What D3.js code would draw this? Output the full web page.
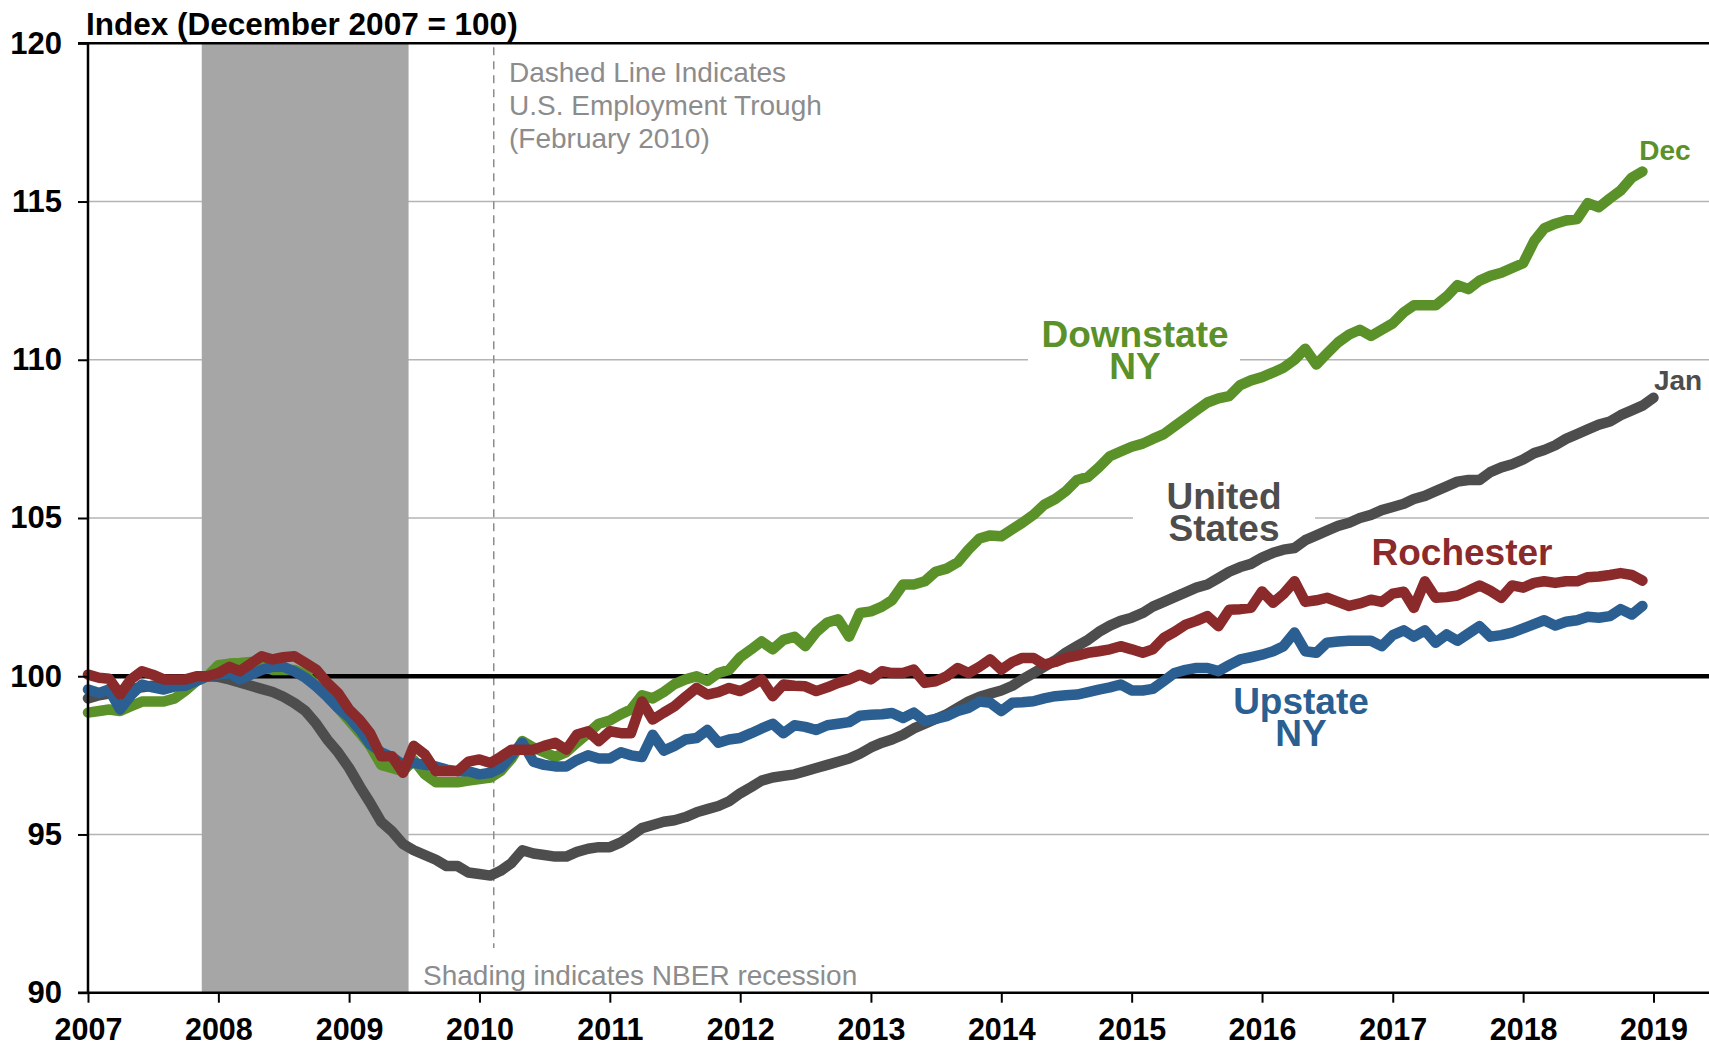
<!DOCTYPE html>
<html>
<head>
<meta charset="utf-8">
<script src="https://cdn.jsdelivr.net/npm/d3@7"></script>
<style>
  html, body { margin: 0; padding: 0; background: #fff; }
  svg { display: block; font-family: "Liberation Sans", Arial, sans-serif; }
</style>
</head>
<body>
<div id="chart"></div>
<script>
// index values, Dec 2007 = 100, monthly from Jan 2007
var usIndex = [
  99.3, 99.4, 99.45, 99.5, 99.6, 99.65, 99.7, 99.7, 99.75, 99.85, 99.9, 100.0,
  99.98, 99.9, 99.8, 99.7, 99.6, 99.5, 99.35, 99.15, 98.9, 98.5, 98.0, 97.6,
  97.1, 96.5, 96.0, 95.4, 95.1, 94.7, 94.5, 94.35, 94.2, 94.0, 94.0, 93.8,
  93.75, 93.7, 93.85, 94.1, 94.5, 94.4, 94.35, 94.3, 94.3, 94.45, 94.55, 94.6,
  94.6, 94.75, 94.95, 95.2, 95.3, 95.4, 95.45, 95.55, 95.7, 95.8, 95.9, 96.05,
  96.3, 96.5, 96.7, 96.8, 96.85, 96.9, 97.0, 97.1, 97.2, 97.3, 97.4, 97.55,
  97.75, 97.9, 98.0, 98.15, 98.35, 98.5, 98.65, 98.8, 99.0, 99.2, 99.35, 99.45,
  99.55, 99.7, 99.9, 100.1, 100.3, 100.5, 100.75, 100.95, 101.15, 101.4, 101.6, 101.75,
  101.85, 102.0, 102.2, 102.35, 102.5, 102.65, 102.8, 102.9, 103.1, 103.3, 103.45, 103.55,
  103.75, 103.9, 104.0, 104.05, 104.3, 104.45, 104.6, 104.75, 104.85, 105.0, 105.1, 105.25,
  105.35, 105.45, 105.6, 105.7, 105.85, 106.0, 106.15, 106.2, 106.2, 106.45, 106.6, 106.7,
  106.85, 107.05, 107.15, 107.3, 107.5, 107.65, 107.8, 107.95, 108.05, 108.25, 108.4, 108.55,
  108.8
];
var downstateIndex = [
  98.85, 98.9, 98.95, 98.9, 99.05, 99.2, 99.2, 99.2, 99.3, 99.55, 99.85, 100.0,
  100.35, 100.4, 100.42, 100.45, 100.35, 100.2, 100.2, 100.2, 100.05, 99.7, 99.4, 99.0,
  98.6, 98.2, 97.8, 97.2, 97.1, 97.0, 97.35, 96.9, 96.65, 96.65, 96.65, 96.7,
  96.75, 96.8, 97.0, 97.4, 97.95, 97.75, 97.6, 97.45, 97.6, 97.9, 98.2, 98.5,
  98.6, 98.8, 98.95, 99.4, 99.3, 99.5, 99.75, 99.9, 100.0, 99.85, 100.1, 100.2,
  100.6, 100.85, 101.1, 100.85, 101.15, 101.25, 100.95, 101.4, 101.7, 101.8, 101.25, 102.0,
  102.05, 102.2, 102.4, 102.9, 102.9, 103.0, 103.3, 103.4, 103.6, 104.0, 104.35, 104.45,
  104.42, 104.65, 104.85, 105.1, 105.42, 105.6, 105.85, 106.2, 106.3, 106.6, 106.95, 107.1,
  107.25, 107.35, 107.5, 107.65, 107.9, 108.15, 108.4, 108.65, 108.78, 108.85, 109.2, 109.35,
  109.45, 109.6, 109.75, 110.0, 110.35, 109.85, 110.2, 110.55, 110.8, 110.95, 110.75, 110.95,
  111.15, 111.5, 111.72, 111.72, 111.72, 112.0, 112.36, 112.23, 112.5, 112.65, 112.75, 112.9,
  113.05, 113.75, 114.15, 114.3, 114.4, 114.45, 114.95, 114.82, 115.1, 115.35, 115.75, 115.95
];
var upstateIndex = [
  99.58, 99.47, 99.58, 98.95, 99.4, 99.74, 99.65, 99.58, 99.68, 99.7, 99.85, 100.0,
  100.05, 100.1, 99.9, 100.05, 100.2, 100.3, 100.3, 100.15, 99.95, 99.68, 99.35, 99.0,
  98.7, 98.3, 97.85, 97.6, 97.45, 97.2, 97.26, 97.2, 97.15, 97.05, 97.0, 97.0,
  96.9, 96.95, 97.1, 97.5, 97.9, 97.3, 97.2, 97.15, 97.15, 97.35, 97.5, 97.4,
  97.4, 97.6, 97.5, 97.45, 98.15, 97.65, 97.8, 98.0, 98.05, 98.3, 97.9, 98.0,
  98.05, 98.2, 98.35, 98.5, 98.2, 98.45, 98.4, 98.3, 98.45, 98.5, 98.55, 98.75,
  98.78, 98.8, 98.84, 98.68, 98.85, 98.58, 98.65, 98.74, 98.9, 99.0, 99.2, 99.16,
  98.9, 99.16, 99.18, 99.21, 99.3, 99.37, 99.4, 99.42, 99.5, 99.58, 99.65, 99.74,
  99.55, 99.55, 99.6, 99.85, 100.1, 100.2, 100.26, 100.26, 100.16, 100.35, 100.53, 100.6,
  100.68, 100.79, 100.95, 101.38, 100.79, 100.74, 101.06, 101.1, 101.12, 101.12, 101.12, 100.95,
  101.3, 101.45, 101.25, 101.45, 101.06, 101.32, 101.12, 101.35, 101.58, 101.25, 101.3, 101.38,
  101.51, 101.65, 101.77, 101.6, 101.72, 101.77, 101.88, 101.85, 101.9, 102.12, 101.95, 102.22
];
var rochesterIndex = [
  100.05, 99.95, 99.92, 99.42, 99.9, 100.16, 100.05, 99.9, 99.9, 99.9, 100.0, 100.0,
  100.1, 100.3, 100.16, 100.4, 100.63, 100.53, 100.6, 100.63, 100.42, 100.21, 99.79, 99.47,
  98.95, 98.6, 98.2, 97.47, 97.47, 96.95, 97.8, 97.53, 97.0, 97.0, 97.0, 97.3,
  97.37, 97.26, 97.45, 97.68, 97.68, 97.68, 97.8, 97.9, 97.68, 98.16, 98.26, 97.95,
  98.26, 98.2, 98.2, 99.2, 98.63, 98.85, 99.05, 99.35, 99.63, 99.42, 99.5, 99.63,
  99.53, 99.7, 99.9, 99.37, 99.74, 99.7, 99.68, 99.53, 99.65, 99.79, 99.9, 100.05,
  99.9, 100.16, 100.1, 100.1, 100.21, 99.79, 99.84, 100.0, 100.26, 100.1, 100.3, 100.53,
  100.21, 100.45, 100.58, 100.58, 100.37, 100.45, 100.58, 100.65, 100.74, 100.79, 100.85, 100.95,
  100.85, 100.74, 100.85, 101.21, 101.4, 101.63, 101.75, 101.9, 101.58, 102.1, 102.12, 102.16,
  102.68, 102.32, 102.6, 103.0, 102.35, 102.4, 102.48, 102.35, 102.22, 102.3, 102.42, 102.35,
  102.61, 102.67, 102.16, 103.0, 102.48, 102.5, 102.55, 102.7, 102.87, 102.7, 102.48, 102.87,
  102.8, 102.95, 103.0, 102.95, 103.0, 103.0, 103.13, 103.15, 103.2, 103.26, 103.2, 103.02
];
var yTicks = [90, 95, 100, 105, 110, 115, 120];
var xYears = [2007, 2008, 2009, 2010, 2011, 2012, 2013, 2014, 2015, 2016, 2017, 2018, 2019];
var recession = [new Date(2007, 11, 1), new Date(2009, 5, 1)];
var usTrough = new Date(2010, 1, 10);

(function() {
var width = 1709, height = 1047;
var plotLeft = 88, plotRight = 1709, plotTop = 43.3, plotBottom = 992.7;

var svg = d3.select("#chart").append("svg")
    .attr("width", width)
    .attr("height", height);

var x = d3.scaleTime()
    .domain([new Date(2007, 0, 1), new Date(2019, 0, 1)])
    .range([plotLeft, 1653.5]);
var y = d3.scaleLinear()
    .domain([90, 120])
    .range([plotBottom, plotTop]);

var months = d3.timeMonth.range(new Date(2007, 0, 1), new Date(2019, 1, 1));
function pts(arr) { return arr.map(function(v, i) { return [months[i], v]; }); }

// grid
svg.append("g").selectAll("line")
    .data(yTicks.filter(function(d) { return d != 90 && d != 100 && d != 120; }))
    .enter().append("line")
    .attr("x1", plotLeft).attr("x2", plotRight)
    .attr("y1", function(d) { return y(d); })
    .attr("y2", function(d) { return y(d); })
    .attr("stroke", "#b4b4b4")
    .attr("stroke-width", 1.5);

// recession shading (half a month either side)
var halfMonth = (x(new Date(2008, 1, 1)) - x(new Date(2008, 0, 1))) / 2;
svg.append("rect")
    .attr("x", x(recession[0]) - halfMonth)
    .attr("y", plotTop)
    .attr("width", x(recession[1]) - x(recession[0]) + 2 * halfMonth)
    .attr("height", plotBottom - plotTop)
    .attr("fill", "#a6a6a6");

// trough line
svg.append("line")
    .attr("x1", x(usTrough)).attr("x2", x(usTrough))
    .attr("y1", plotTop + 4).attr("y2", 948)
    .attr("stroke", "#8c8c8c")
    .attr("stroke-width", 1.5)
    .attr("stroke-dasharray", "8,6");

// white boxes behind series labels
var boxes = [[1028, 318, 212, 70], [1133, 478, 182, 70]];
svg.selectAll(".box").data(boxes).enter().append("rect")
    .attr("x", function(d) { return d[0]; })
    .attr("y", function(d) { return d[1]; })
    .attr("width", function(d) { return d[2]; })
    .attr("height", function(d) { return d[3]; })
    .attr("fill", "#fff");

// 100 line
svg.append("line")
    .attr("x1", plotLeft).attr("x2", plotRight)
    .attr("y1", y(100)).attr("y2", y(100))
    .attr("stroke", "#000")
    .attr("stroke-width", 4.5);

var line = d3.line()
    .x(function(d) { return x(d[0]); })
    .y(function(d) { return y(d[1]); });

var series = [
  {name: "us", values: usIndex, color: "#4d4d4d"},
  {name: "downstate", values: downstateIndex, color: "#5b9129"},
  {name: "upstate", values: upstateIndex, color: "#2b5e91"},
  {name: "rochester", values: rochesterIndex, color: "#8b2a2b"}
];
svg.selectAll(".series").data(series).enter().append("path")
    .attr("class", "series")
    .attr("d", function(d) { return line(pts(d.values)); })
    .attr("fill", "none")
    .attr("stroke", function(d) { return d.color; })
    .attr("stroke-width", 10.5)
    .attr("stroke-linejoin", "round")
    .attr("stroke-linecap", "round");

// axes
var yAxis = svg.append("g")
    .attr("transform", "translate(" + plotLeft + ",0)")
    .call(d3.axisLeft(y).tickValues(yTicks).tickSize(10).tickPadding(16).tickFormat(d3.format("d")));
yAxis.select(".domain").remove();
yAxis.selectAll("line").attr("stroke", "#000").attr("stroke-width", 2);
yAxis.selectAll("text")
    .style("font-size", "31px").style("font-weight", "bold").attr("fill", "#000");

var xAxis = svg.append("g")
    .attr("transform", "translate(0," + plotBottom + ")")
    .call(d3.axisBottom(x)
        .tickValues(xYears.map(function(yr) { return new Date(yr, 0, 1); }))
        .tickSize(10).tickPadding(16).tickFormat(d3.timeFormat("%Y")));
xAxis.select(".domain").remove();
xAxis.selectAll("line").attr("stroke", "#000").attr("stroke-width", 2);
xAxis.selectAll("text")
    .style("font-size", "30.5px").style("font-weight", "bold").attr("fill", "#000");

// frame lines
svg.append("line").attr("x1", plotLeft).attr("x2", plotLeft).attr("y1", plotTop).attr("y2", plotBottom)
    .attr("stroke", "#000").attr("stroke-width", 2.5);
svg.append("line").attr("x1", plotLeft - 10).attr("x2", plotRight).attr("y1", plotBottom).attr("y2", plotBottom)
    .attr("stroke", "#000").attr("stroke-width", 2.5);
svg.append("line").attr("x1", plotLeft - 10).attr("x2", plotRight).attr("y1", plotTop).attr("y2", plotTop)
    .attr("stroke", "#000").attr("stroke-width", 2.5);

// titles and notes
svg.append("text")
    .attr("x", 86).attr("y", 35)
    .style("font-size", "31.5px").style("font-weight", "bold")
    .text("Index (December 2007 = 100)");

var note = ["Dashed Line Indicates", "U.S. Employment Trough", "(February 2010)"];
svg.append("g").selectAll("text").data(note).enter().append("text")
    .attr("x", 509)
    .attr("y", function(d, i) { return 82 + i * 33; })
    .attr("fill", "#8c8c8c")
    .style("font-size", "28px")
    .text(function(d) { return d; });

svg.append("text")
    .attr("x", 423).attr("y", 985)
    .attr("fill", "#8c8c8c")
    .style("font-size", "28px")
    .text("Shading indicates NBER recession");

// series labels
var labels = [
  {lines: ["Downstate", "NY"], x: 1135, y: 347, color: "#5b9129", size: 37},
  {lines: ["United", "States"], x: 1224, y: 509, color: "#4d4d4d", size: 37},
  {lines: ["Rochester"], x: 1462, y: 565, color: "#8b2a2b", size: 37},
  {lines: ["Upstate", "NY"], x: 1301, y: 714, color: "#2b5e91", size: 37},
  {lines: ["Dec"], x: 1665, y: 160, color: "#5b9129", size: 28},
  {lines: ["Jan"], x: 1678, y: 390, color: "#4d4d4d", size: 28}
];
labels.forEach(function(l) {
  var t = svg.append("text")
      .attr("text-anchor", "middle")
      .attr("fill", l.color)
      .style("font-size", l.size + "px")
      .style("font-weight", "bold");
  l.lines.forEach(function(s, i) {
    t.append("tspan").attr("x", l.x).attr("y", l.y + i * 32).text(s);
  });
});
})();
</script>
</body>
</html>
